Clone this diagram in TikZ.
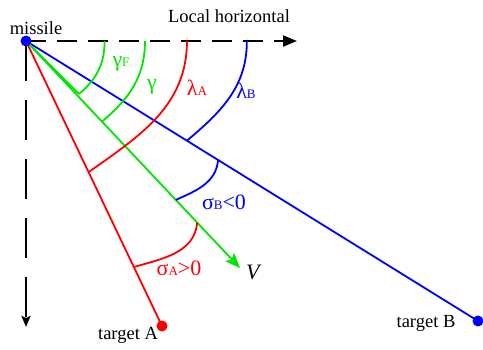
\documentclass[tikz,border=0pt]{standalone}
\usepackage{fontspec}
\setmainfont{Liberation Serif}
\usetikzlibrary{positioning,arrows.meta,calc}
\definecolor{losred}{RGB}{255,0,0}
\definecolor{losgreen}{RGB}{0,230,0}
\definecolor{losblue}{RGB}{0,0,255}
\newcommand{\smallsub}[1]{{\fontsize{13}{13}\selectfont #1}}

\begin{document}
\begin{tikzpicture}[x=1pt, y=1pt,
    dot/.style={circle, inner sep=0pt, minimum size=11pt},
    refline/.style={line width=2.1pt, draw=black},
    los/.style={line width=1.8pt},
    anglearc/.style={line width=1.8pt},
    lab/.style={font=\fontsize{18.5}{20}\selectfont, inner sep=0pt},
    greek/.style={font=\fontsize{22}{24}\selectfont, inner sep=0pt}
  ]
    \useasboundingbox (0,0) rectangle (483,349);

    \coordinate (M) at (26,308);
    \coordinate (A) at (162,23);
    \coordinate (B) at (478,28);
    \coordinate (horiz) at (297,308);
    \coordinate (vert) at (26,22);
    \coordinate (vel) at (240,81);
    \coordinate (gamF) at (79,255);

    % reference axes
    \draw[refline, dash pattern=on 20pt off 11pt, -{Triangle[length=14pt, width=11pt]}] (M) -- (horiz);
    \draw[refline, dash pattern=on 40pt off 19pt, -{Stealth[length=11pt, width=9pt, inset=2pt]}] (M) -- (vert);

    % lines of sight and velocity
    \draw[los, losred] (M) -- (A);
    \draw[los, losblue] (M) -- (B);
    \draw[los, losgreen] (M) -- (gamF);
    \draw[los, losgreen, -{Stealth[length=15pt, width=12pt, inset=3pt]}] (M) -- (vel);

    % angle arcs
    \draw[anglearc, losgreen] ($(M)!0.290!(horiz)$) to[out=-90, in=40] (gamF);
    \draw[anglearc, losgreen] ($(M)!0.439!(horiz)$) to[out=-90, in=40] ($(M)!0.355!(vel)$);
    \draw[anglearc, losred] ($(M)!0.594!(horiz)$) to[out=-90, in=35] ($(M)!0.46!(A)$);
    \draw[anglearc, losblue] ($(M)!0.815!(horiz)$) to[out=-90, in=40] ($(M)!0.356!(B)$);
    \draw[anglearc, losblue] ($(M)!0.425!(B)$) to[out=-95, in=24] ($(M)!0.70!(vel)$);
    \draw[anglearc, losred] ($(M)!0.80!(vel)$) to[out=-95, in=16] ($(M)!0.793!(A)$);

    % points
    \node[dot, fill=losblue] (missile) at (M) {};
    \node[dot, fill=losred] (tgtA) at (A) {};
    \node[dot, fill=losblue] (tgtB) at (B) {};

    % labels
    \node[lab] (lblmissile) at (36,321) {missile};
    \node[lab] (lblhoriz) at (229,333) {Local horizontal};
    \node[lab] (lbltgtA) at (128,14) {target A};
    \node[lab] (lbltgtB) at (426,26) {target B};
    \node[greek, text=losgreen] (lblgamF) at (121,285) {γ\smallsub{F}};
    \node[greek, text=losgreen] (lblgam) at (152,262) {γ};
    \node[greek, text=losred] (lbllamA) at (197,261) {λ\smallsub{A}};
    \node[greek, text=losblue] (lbllamB) at (246,258) {λ\smallsub{B}};
    \node[greek, text=losblue] (lblsigB) at (224,147) {σ\smallsub{B}<0};
    \node[greek, text=losred] (lblsigA) at (179,81) {σ\smallsub{A}>0};
    \node[greek] (lblvel) at (254,77) {\textit{V}};
\end{tikzpicture}
\end{document}
